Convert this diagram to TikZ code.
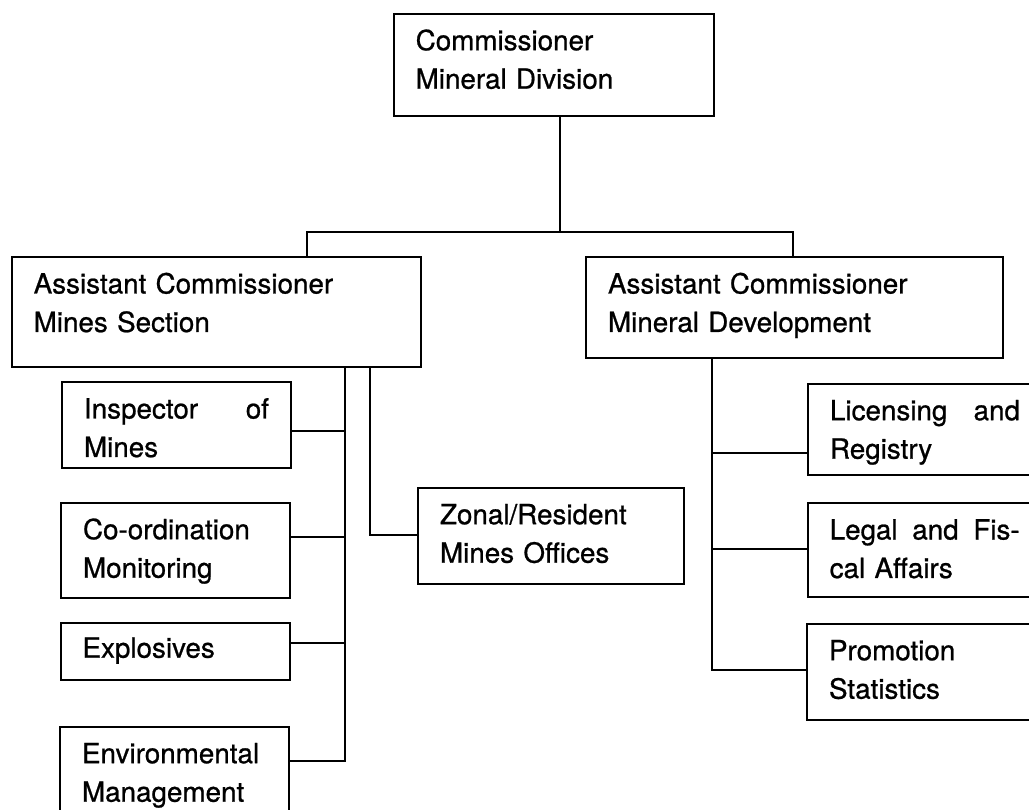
\documentclass[tikz,border=0pt]{standalone}
\usepackage{fontspec}
\setmainfont{TeX Gyre Heros}[FakeBold=0.8]
\usetikzlibrary{calc}
\begin{document}
\begin{tikzpicture}[x=1pt,y=-1pt,
  box/.style={draw, line width=2pt, anchor=north west, inner xsep=22pt,
    inner ysep=0pt, align=left, font=\fontsize{27.8}{38.5}\selectfont,
    text height=36.5pt},
  link/.style={line width=2pt}]
\useasboundingbox (0,0) rectangle (1029,810);
\clip (0,0) rectangle (1029,810);

% head of the division
\node[box, text width=276.3pt, text depth=65.8pt] (top) at (392.7,12.7)
  {Commissioner\\Mineral Division};

% the two sections
\node[box, text width=365.3pt, text depth=73.2pt] (acm) at (10.7,256)
  {Assistant Commissioner\\Mines Section};
\node[box, text width=372.7pt, text depth=64.2pt] (acd) at (585,256)
  {Assistant Commissioner\\Mineral Development};

% units under the mines section
\node[box, text width=185pt, text depth=49.2pt] (insp) at (61,381)
  {Inspector\hfill of\\Mines};
\node[box, text width=185pt, text depth=58.8pt] (coord) at (60,501.7)
  {Co-ordination\\Monitoring};
\node[box, text width=185.5pt, text height=35pt, text depth=22.3pt] (expl) at (59.5,621.7)
  {Explosives};
\node[box, text width=185pt, text depth=63.5pt] (env) at (59,725.7)
  {Environmental\\Management};
\node[box, text width=222pt, text depth=59.5pt] (zonal) at (417,486.7)
  {Zonal/Resident\\Mines Offices};

% units under mineral development
\node[box, text width=190pt, text depth=54.8pt] (lic) at (807,382.7)
  {Licensing\hfill and\\Registry};
\node[box, text width=190pt, text depth=57.5pt] (legal) at (806.7,502)
  {Legal\hfill and\hfill Fis-\\cal Affairs};
\node[box, text width=190pt, text depth=60.1pt] (promo) at (806,622.7)
  {Promotion\\Statistics};

% trunk lines
\coordinate (bus) at (560,232);
\coordinate (lx) at (307,0);
\coordinate (rx) at (793,0);
\coordinate (sx) at (345,0);
\coordinate (zx) at (370,0);
\coordinate (dx) at (712,0);

% attachment points on the boxes
\path (insp.north east)  ++(0,50)   coordinate (insp-c);
\path (coord.north east) ++(0,35.3) coordinate (coord-c);
\path (expl.north east)  ++(0,21.3) coordinate (expl-c);
\path (env.north east)   ++(0,35.3) coordinate (env-c);
\path (zonal.north west) ++(0,48.3) coordinate (zonal-c);
\path (lic.north west)   ++(0,70.3) coordinate (lic-c);
\path (legal.north west) ++(0,47.3) coordinate (legal-c);
\path (promo.north west) ++(0,47.3) coordinate (promo-c);

\draw[link] (top.south -| bus) -- (bus);
\draw[link] (acm.north -| lx) |- (bus) -| (acd.north -| rx);

% mines section branches
\draw[link] (acm.south -| sx) |- (env-c);
\draw[link] (insp-c) -- (insp-c -| sx);
\draw[link] (coord-c) -- (coord-c -| sx);
\draw[link] (expl-c) -- (expl-c -| sx);
\draw[link] (acm.south -| zx) |- (zonal-c);

% mineral development branches
\draw[link] (acd.south -| dx) |- (promo-c);
\draw[link] (lic-c -| dx) -- (lic-c);
\draw[link] (legal-c -| dx) -- (legal-c);
\end{tikzpicture}
\end{document}
